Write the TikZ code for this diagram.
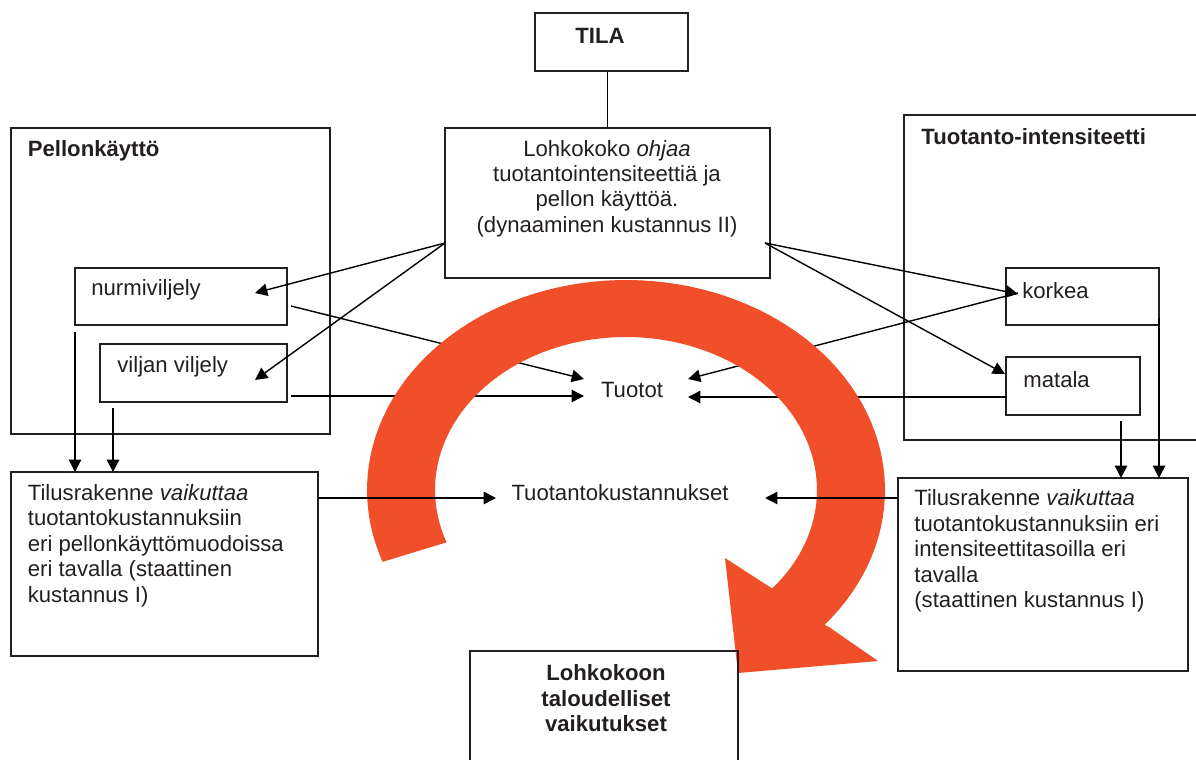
\documentclass[tikz,border=0pt]{standalone}
\usepackage{fontspec}
\setmainfont{Liberation Sans}
\usetikzlibrary{arrows.meta}
\definecolor{arrred}{RGB}{240,79,41}
\definecolor{ink}{RGB}{35,31,32}
\newcommand\mkbox[5]{%
  \pgfmathsetmacro\bw{(#4-#2)*0.02}%
  \pgfmathsetmacro\bh{(#5-#3)*0.02}%
  \node[boxst, minimum width=\bw cm, minimum height=\bh cm] (#1) at ({(#2+#4)/2},{(#3+#5)/2}) {};}
\begin{document}
\begin{tikzpicture}[x=0.02cm,y=-0.02cm,
  every node/.style={font=\fontsize{12.6}{14.5}\selectfont, text=ink},
  boxst/.style={draw=ink, line width=1pt, inner sep=0pt, fill=none},
  txt/.style={inner sep=0pt},
  conn/.style={draw=black, line width=0.8pt, -{Triangle[length=7pt,width=7pt]}},
  plain/.style={draw=black, line width=0.8pt}]
\useasboundingbox (0,0) rectangle (1196,760);
\clip (0,0) rectangle (1196,760);

% boxes
\mkbox{tila}{535}{13}{688}{71}
\mkbox{lohko}{445}{128}{770}{278}
\mkbox{pello}{11}{128}{330}{434}
\mkbox{nurmi}{75}{268}{287}{325}
\mkbox{vilja}{100}{344}{287}{402}
\mkbox{inten}{904}{115}{1210}{440}
\mkbox{korkea}{1006}{268}{1159}{325}
\mkbox{matala}{1006}{357}{1140}{415}
\mkbox{lbot}{11}{472}{318}{656}
\mkbox{rbot}{898}{478}{1188}{671}

% texts
\node[txt] (ttila) at (600,36) {\bfseries TILA};
\node[txt, align=center] (tlohko) at (607,188.5) {Lohkokoko \textit{ohjaa}\\tuotantointensiteettiä ja\\pellon käyttöä.\\(dynaaminen kustannus II)};
\node[txt, anchor=west] (tpel) at (27.5,151) {\bfseries Pellonkäyttö};
\node[txt, anchor=west] (tint) at (921,137) {\bfseries Tuotanto-intensiteetti};
\node[txt, anchor=west] (tnurmi) at (91,290) {nurmiviljely};
\node[txt, anchor=west] (tvilja) at (117,367) {viljan viljely};
\node[txt, anchor=west] (tkorkea) at (1022,291) {korkea};
\node[txt, anchor=west] (tmatala) at (1023,380) {matala};
\node[txt] (tuotot) at (632,390) {Tuotot};
\node[txt] (tk) at (620,493) {Tuotantokustannukset};
\node[txt, anchor=west, align=left] (tlbot) at (27.5,545.5) {Tilusrakenne \textit{vaikuttaa}\\tuotantokustannuksiin\\eri pellonkäyttömuodoissa\\eri tavalla (staattinen\\kustannus I)};
\node[txt, anchor=west, align=left] (trbot) at (914,551) {Tilusrakenne \textit{vaikuttaa}\\tuotantokustannuksiin eri\\intensiteettitasoilla eri\\tavalla\\(staattinen kustannus I)};

% connector end points
\coordinate (lo) at (445,243);
\coordinate (ro) at (765,243);
\coordinate (inN) at (255,293);
\coordinate (inV) at (255,380);
\coordinate (inK) at (1018,294);
\coordinate (inM) at (1005,374);
\coordinate (nOut) at (291,306);
\coordinate (vOut) at (291,396);
\coordinate (kOut) at (1018,293);
\coordinate (mOut) at (1006,397);
\coordinate (tuL1) at (584,379);
\coordinate (tuL2) at (584,396);
\coordinate (tuR1) at (688,379);
\coordinate (tuR2) at (688,397);
\coordinate (nDown) at (75,332);
\coordinate (vDown) at (113,408);
\coordinate (mDown) at (1121,421);
\coordinate (kDown) at (1159,318);
\coordinate (lbIn1) at (75,472);
\coordinate (lbIn2) at (113,472);
\coordinate (rbIn1) at (1121,478);
\coordinate (rbIn2) at (1159,478);
\coordinate (lbOut) at (318,498);
\coordinate (rbOut) at (898,498);
\coordinate (tkL) at (496,498);
\coordinate (tkR) at (765,498);

% connectors
\draw[plain] (lohko.north) -- (lohko.north |- tila.south);
\draw[conn] (lo) -- (inN);
\draw[conn] (lo) -- (inV);
\draw[conn] (ro) -- (inK);
\draw[conn] (ro) -- (inM);
\draw[conn] (nOut) -- (tuL1);
\draw[conn] (vOut) -- (tuL2);
\draw[conn] (kOut) -- (tuR1);
\draw[conn] (mOut) -- (tuR2);
\draw[conn] (nDown) -- (lbIn1);
\draw[conn] (vDown) -- (lbIn2);
\draw[conn] (mDown) -- (rbIn1);
\draw[conn] (kDown) -- (rbIn2);

% big red circular arrow
\fill[arrred] plot[domain=200:-40, samples=90] ({626+259*cos(\x)},{490-210*sin(\x)})
  -- (829,627) -- (878,661) -- (738,673) -- (725,558) -- (776,591)
  -- plot[domain=-40:200, samples=90] ({626+191*cos(\x)},{490-153*sin(\x)}) -- cycle;

\draw[conn] (lbOut) -- (tkL);
\draw[conn] (rbOut) -- (tkR);

\mkbox{lohkokoon}{470}{651}{738}{790}
\node[txt, align=center] (tlk) at (606,698.5) {\bfseries Lohkokoon\\\bfseries taloudelliset\\\bfseries vaikutukset};
\end{tikzpicture}
\end{document}
